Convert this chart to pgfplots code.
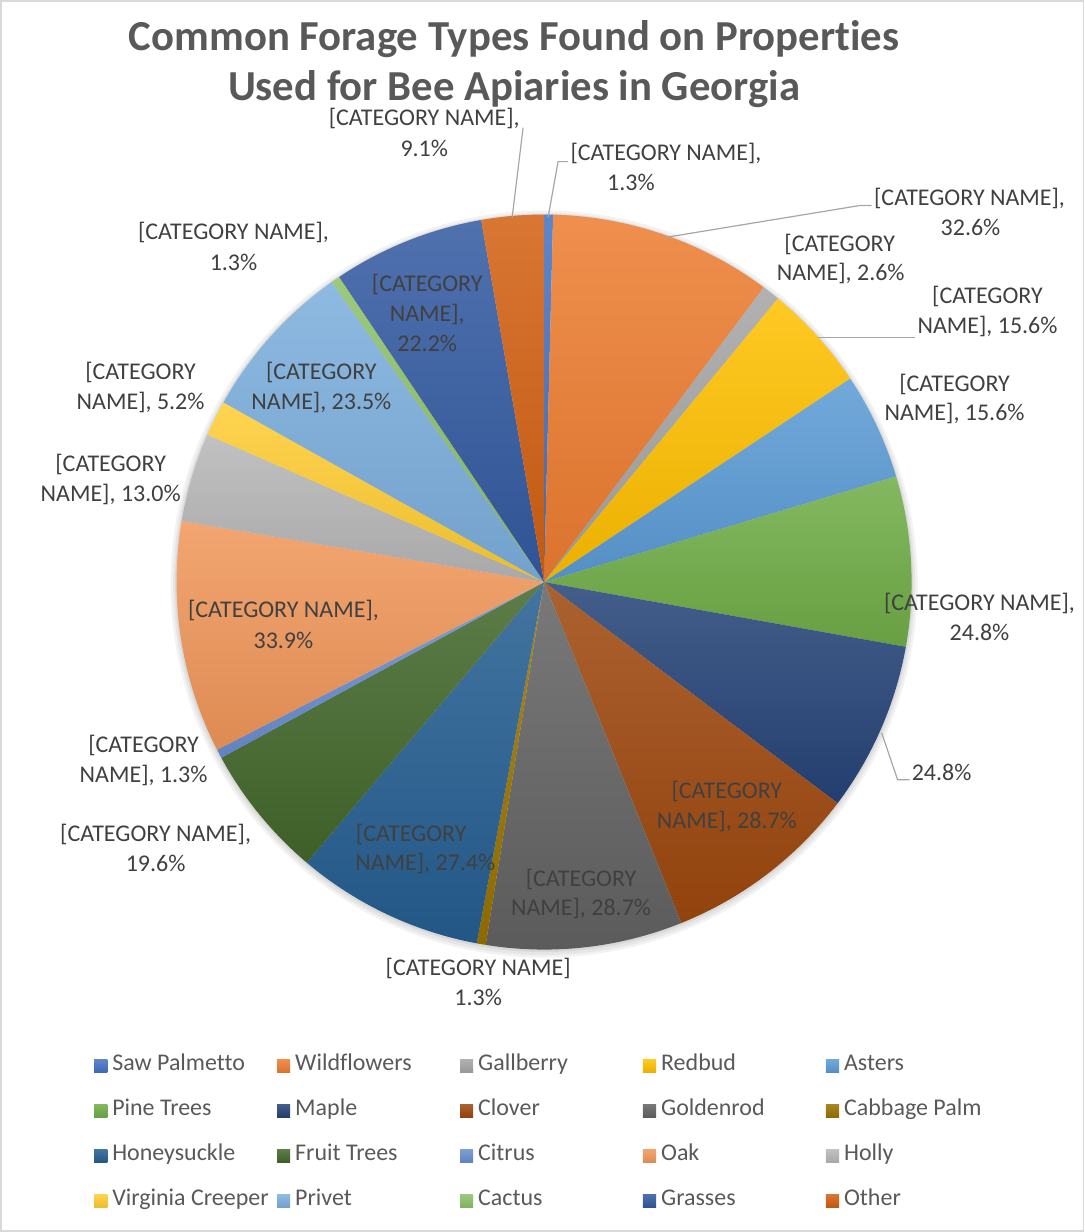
\documentclass[border=0pt]{standalone}
\usepackage{pgfplots}
\pgfplotsset{compat=1.18}
\usepackage{pgfplotstable}
\usepackage{fontspec}
\setmainfont{Carlito}[Ligatures={NoCommon}]
\definecolor{c1}{HTML}{4472C4}
\definecolor{c2}{HTML}{ED7D31}
\definecolor{c3}{HTML}{A5A5A5}
\definecolor{c4}{HTML}{FFC000}
\definecolor{c5}{HTML}{5B9BD5}
\definecolor{c6}{HTML}{70AD47}
\definecolor{c7}{HTML}{264478}
\definecolor{c8}{HTML}{9E480E}
\definecolor{c9}{HTML}{636363}
\definecolor{c10}{HTML}{997300}
\definecolor{c11}{HTML}{255E91}
\definecolor{c12}{HTML}{43682B}
\definecolor{c13}{HTML}{698ED0}
\definecolor{c14}{HTML}{F1975A}
\definecolor{c15}{HTML}{B7B7B7}
\definecolor{c16}{HTML}{FFCD33}
\definecolor{c17}{HTML}{7CAFDD}
\definecolor{c18}{HTML}{8CC168}
\definecolor{c19}{HTML}{335AA1}
\definecolor{c20}{HTML}{D26012}
\definecolor{lbl}{HTML}{404040}
\definecolor{ttl}{HTML}{595959}
\definecolor{leader}{HTML}{A6A6A6}
\definecolor{frame}{HTML}{D9D9D9}

\pgfplotstableread[col sep=comma]{
name,value,col
Saw Palmetto,1.3,c1
Wildflowers,32.6,c2
Gallberry,2.6,c3
Redbud,15.6,c4
Asters,15.6,c5
Pine Trees,24.8,c6
Maple,24.8,c7
Clover,28.7,c8
Goldenrod,28.7,c9
Cabbage Palm,1.3,c10
Honeysuckle,27.4,c11
Fruit Trees,19.6,c12
Citrus,1.3,c13
Oak,33.9,c14
Holly,13.0,c15
Virginia Creeper,5.2,c16
Privet,23.5,c17
Cactus,1.3,c18
Grasses,22.2,c19
Other,9.1,c20
}\foragedata
\pgfplotstablecreatecol[expr accum={\pgfmathaccuma + \thisrow{value}}{0}]{cum}\foragedata
\pgfplotstablegetelem{19}{cum}\of\foragedata
\let\total\pgfplotsretval

\newcommand{\pcx}{544}
\newcommand{\pcy}{582}
\newcommand{\prad}{368}
\newcommand{\lbl}[3]{\node[text=lbl, font=\fontsize{12}{14.5}\selectfont, inner sep=0pt, anchor=center] at (axis cs:#1,#2) {#3};}

\begin{document}
\begin{tikzpicture}
\begin{axis}[
  x=0.5pt, y=0.5pt,
  xmin=0, xmax=1084, ymin=0, ymax=1232,
  y dir=reverse,
  xtick=\empty, ytick=\empty,
  axis line style={draw=frame, line width=0.8pt},
  clip=false,
  legend columns=5,
  legend cell align=left,
  legend image code/.code={\path[#1] (0pt,-3.2pt) rectangle (6.6pt,3.2pt);},
  legend style={at={(axis cs:93,1054)}, anchor=north west, draw=none, fill=none,
    inner sep=0pt, row sep=10.5pt,
    font=\fontsize{12}{14.5}\selectfont, text=ttl,
    nodes={inner xsep=2.5pt, inner ysep=0pt, text height=8.5pt, text depth=3.5pt}},
]
% soft shadow
\addplot[forget plot, draw=none, fill=black, fill opacity=0.05, domain=0:360, samples=181, variable=\t]
  ({\pcx+(\prad+6)*sin(\t)},{\pcy+2-(\prad+6)*cos(\t)}) -- cycle;
\addplot[forget plot, draw=none, fill=black, fill opacity=0.05, domain=0:360, samples=181, variable=\t]
  ({\pcx+(\prad+3.5)*sin(\t)},{\pcy+2-(\prad+3.5)*cos(\t)}) -- cycle;
\addplot[forget plot, draw=none, fill=black, fill opacity=0.06, domain=0:360, samples=181, variable=\t]
  ({\pcx+(\prad+1.5)*sin(\t)},{\pcy+1-(\prad+1.5)*cos(\t)}) -- cycle;
% slices
\pgfplotsforeachungrouped \i in {0,...,19}{%
  \pgfplotstablegetelem{\i}{value}\of\foragedata \let\vv\pgfplotsretval
  \pgfplotstablegetelem{\i}{cum}\of\foragedata \let\cc\pgfplotsretval
  \pgfplotstablegetelem{\i}{col}\of\foragedata \let\colr\pgfplotsretval
  \pgfplotstablegetelem{\i}{name}\of\foragedata \let\nm\pgfplotsretval
  \pgfmathsetmacro\aend{\cc/\total*360}%
  \pgfmathsetmacro\astart{(\cc-\vv)/\total*360}%
  \edef\doplot{\noexpand\addplot[draw=none, top color=\colr!86!white, bottom color=\colr!92!black,
      domain=\astart:\aend, samples=90, variable=\noexpand\t]
     ({\pcx+\prad*sin(\noexpand\t)}, {\pcy-\prad*cos(\noexpand\t)}) -- (axis cs:\pcx,\pcy) -- cycle;
     \noexpand\addlegendentry{\noexpand\makebox[80pt][l]{\nm}}}%
  \doplot
}
% leader lines
\addplot[forget plot, leader, line width=0.6pt] coordinates {(512,217) (523,127)};
\addplot[forget plot, leader, line width=0.6pt] coordinates {(548,217) (558,161) (568,161)};
\addplot[forget plot, leader, line width=0.6pt] coordinates {(665,237) (860,205) (872,205)};
\addplot[forget plot, leader, line width=0.6pt] coordinates {(818,337) (915,337)};
\addplot[forget plot, leader, line width=0.6pt] coordinates {(882,733) (898,780) (910,780)};
% title
\node[text=ttl, font=\fontsize{21.4}{25}\selectfont\bfseries, align=center, inner sep=0pt] at (axis cs:514,63)
  {Common Forage Types Found on Properties\\Used for Bee Apiaries in Georgia};
% data labels
\lbl{666}{153}{[CATEGORY NAME],}
\lbl{631}{182}{1.3\%}
\lbl{970}{198}{[CATEGORY NAME],}
\lbl{971}{227}{32.6\%}
\lbl{840}{244}{[CATEGORY}
\lbl{841}{273}{NAME], 2.6\%}
\lbl{988}{296}{[CATEGORY}
\lbl{988}{326}{NAME], 15.6\%}
\lbl{955}{384}{[CATEGORY}
\lbl{955}{413}{NAME], 15.6\%}
\lbl{980}{603}{[CATEGORY NAME],}
\lbl{980}{632}{24.8\%}
\lbl{942}{773}{24.8\%}
\lbl{727}{792}{[CATEGORY}
\lbl{727}{822}{NAME], 28.7\%}
\lbl{581}{880}{[CATEGORY}
\lbl{581}{909}{NAME], 28.7\%}
\lbl{478}{969}{[CATEGORY NAME]}
\lbl{478}{998}{1.3\%}
\lbl{411}{835}{[CATEGORY}
\lbl{425}{864}{NAME], 27.4\%}
\lbl{155}{835}{[CATEGORY NAME],}
\lbl{155}{864}{19.6\%}
\lbl{143}{746}{[CATEGORY}
\lbl{143}{776}{NAME], 1.3\%}
\lbl{283}{610}{[CATEGORY NAME],}
\lbl{283}{640}{33.9\%}
\lbl{110}{464}{[CATEGORY}
\lbl{110}{494}{NAME], 13.0\%}
\lbl{140}{372}{[CATEGORY}
\lbl{140}{402}{NAME], 5.2\%}
\lbl{321}{372}{[CATEGORY}
\lbl{321}{402}{NAME], 23.5\%}
\lbl{233}{232}{[CATEGORY NAME],}
\lbl{233}{262}{1.3\%}
\lbl{427}{284}{[CATEGORY}
\lbl{427}{314}{NAME],}
\lbl{427}{343}{22.2\%}
\lbl{424}{118}{[CATEGORY NAME],}
\lbl{424}{148}{9.1\%}
\end{axis}
\end{tikzpicture}
\end{document}
